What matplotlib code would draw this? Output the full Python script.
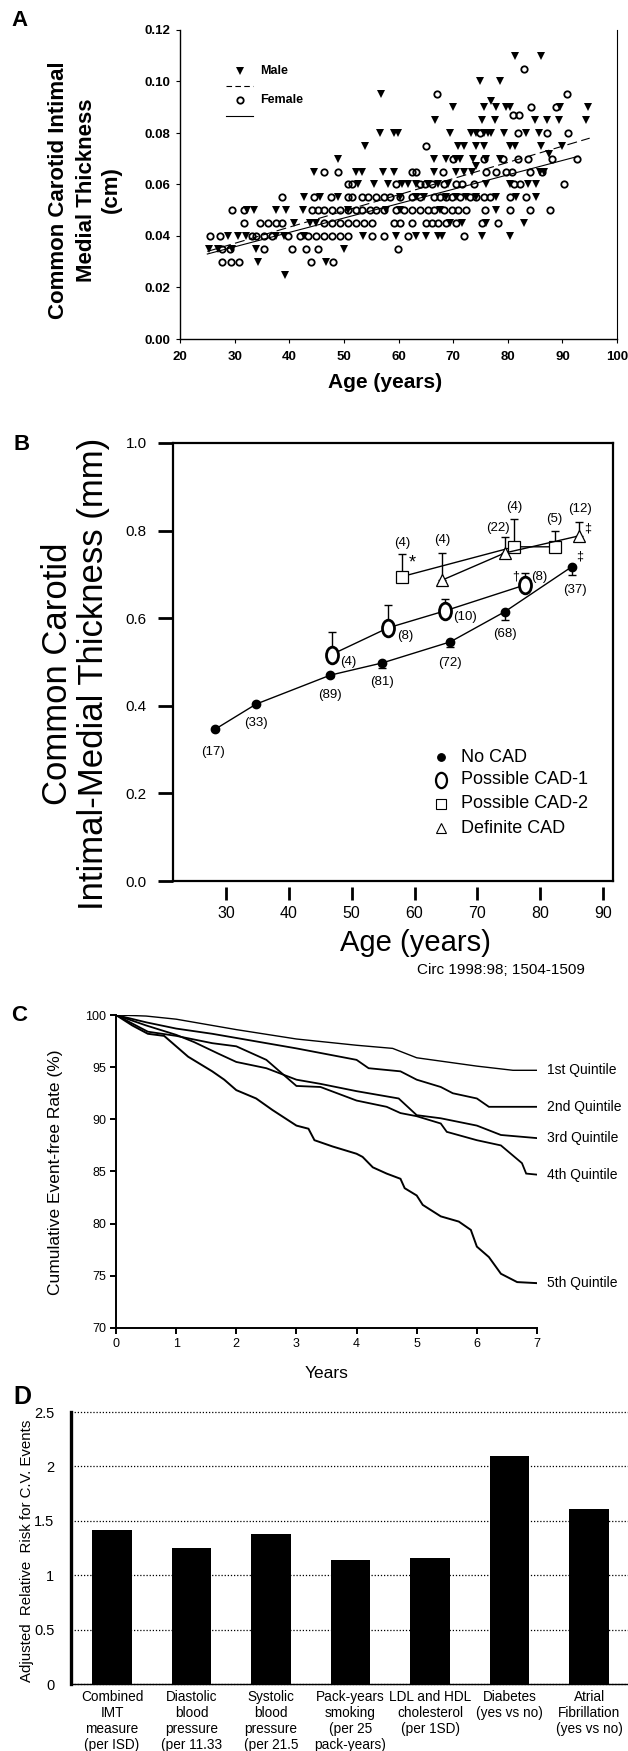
import numpy as np
import matplotlib
matplotlib.use('Agg')
import matplotlib.pyplot as plt
from matplotlib.path import Path
from matplotlib.transforms import Affine2D

plt.rcParams['font.family'] = ['Liberation Sans', 'DejaVu Sans']

W, H = 628, 1751

###   Panel A : IMT vs age scatter (cm)

male_rows = [
    (0.110, [81.3, 86.0]),
    (0.100, [74.9, 78.6]),
    (0.095, [56.8]),
    (0.0925, [77.0]),
    (0.090, [70.0, 75.6, 77.8, 79.7, 80.4, 89.5, 94.7]),
    (0.085, [66.6, 75.3, 77.6, 84.9, 87.2, 89.4, 94.3]),
    (0.080, [56.6, 59.2, 59.9, 69.4, 73.3, 74.2, 75.6, 76.3, 77.0, 79.3, 83.3, 85.7]),
    (0.075, [53.8, 70.9, 72.0, 74.2, 75.6, 80.4, 81.3, 86.0, 89.9]),
    (0.072, [87.5]),
    (0.070, [48.9, 66.5, 68.7, 70.5, 71.2, 73.6, 76.0, 78.6]),
    (0.067, [74.2]),
    (0.065, [44.6, 52.2, 53.3, 57.2, 59.2, 66.5, 70.5, 72.0, 73.4, 85.9, 86.6]),
    (0.060, [52.6, 55.5, 58.1, 60.6, 61.7, 63.2, 65.4, 67.2, 69.0, 76.0, 80.4, 83.7, 85.2]),
    (0.055, [42.7, 45.6, 48.9, 60.3, 63.2, 64.7, 68.7, 70.5, 72.3, 74.2, 77.8, 81.5, 85.2]),
    (0.050, [32.2, 33.5, 37.6, 39.4, 42.5, 50.7, 57.7, 60.3, 67.6, 77.8]),
    (0.045, [40.9, 43.8, 44.9, 69.4, 71.6, 76.0, 82.9]),
    (0.040, [28.8, 30.6, 32.1, 37.6, 39.0, 42.7, 53.5, 59.5, 63.2, 65.0, 67.2, 68.0, 75.3, 80.4]),
    (0.035, [25.3, 27.0, 29.5, 33.9, 50.0]),
    (0.030, [34.2, 46.7]),
    (0.025, [39.2]),
]

female_rows = [
    (0.105, [83.0]),
    (0.095, [67.0, 90.9]),
    (0.090, [84.2, 88.8]),
    (0.087, [81.0, 82.0]),
    (0.080, [74.9, 81.9, 87.2, 91.1]),
    (0.075, [65.0]),
    (0.070, [70.0, 75.6, 79.1, 81.9, 83.7, 88.1, 92.7]),
    (0.065, [46.4, 48.9, 62.5, 63.2, 68.2, 76.0, 77.8, 79.7, 80.8, 84.0, 86.2]),
    (0.060, [50.7, 51.5, 59.5, 63.9, 64.8, 66.1, 68.3, 70.5, 71.6, 73.8, 81.1, 82.2, 90.3]),
    (0.055, [38.7, 44.5, 47.7, 50.7, 51.5, 53.3, 54.4, 55.9, 57.3, 58.4, 60.3, 62.5, 63.9,
             66.5, 67.6, 68.7, 69.8, 71.2, 73.1, 74.2, 75.6, 76.7, 80.4, 83.3]),
    (0.050, [29.5, 31.7, 44.2, 45.3, 46.4, 47.8, 49.3, 50.7, 52.2, 53.3, 54.8, 55.9, 57.3,
             59.5, 61.0, 62.5, 63.9, 65.4, 66.5, 68.3, 69.8, 70.9, 72.3, 75.8, 80.4, 84.0, 87.7]),
    (0.045, [31.7, 34.6, 36.1, 37.6, 38.7, 46.4, 47.8, 49.3, 50.7, 52.2, 53.6, 55.1, 59.2,
             60.3, 62.5, 65.0, 66.1, 67.2, 68.7, 70.5, 75.3, 78.2]),
    (0.040, [25.5, 27.3, 33.2, 34.0, 35.4, 36.8, 39.8, 42.0, 43.4, 44.9, 46.4, 47.8, 49.3,
             50.7, 55.1, 57.3, 61.7, 72.0]),
    (0.035, [27.7, 29.2, 35.4, 40.5, 43.1, 45.3, 59.9]),
    (0.030, [27.7, 29.3, 30.8, 43.9, 48.0]),
]

male_fit_age = [25, 95]
male_fit_imt = [0.034, 0.078]
female_fit_age = [25, 93]
female_fit_imt = [0.033, 0.071]

###   Panel B : IMT by CAD group (mm)

nocad_age = [28.2, 34.8, 46.6, 54.9, 65.7, 74.4, 85.1]
nocad_imt = [0.346, 0.404, 0.470, 0.498, 0.546, 0.615, 0.718]
nocad_err = [0.0, 0.0, 0.005, 0.012, 0.012, 0.018, 0.020]
nocad_n = ['(17)', '(33)', '(89)', '(81)', '(72)', '(68)', '(37)']

cad1_age = [46.8, 55.8, 64.9, 77.6]
cad1_imt = [0.517, 0.578, 0.617, 0.676]
cad1_err = [0.052, 0.053, 0.026, 0.028]
cad1_n = ['(4)', '(8)', '(10)', '(8)']

cad2_age = [58.0, 75.9, 82.3]
cad2_imt = [0.695, 0.763, 0.763]
cad2_err = [0.051, 0.063, 0.036]
cad2_n = ['(4)', '(4)', '(5)']

defcad_age = [64.4, 74.4, 86.2]
defcad_imt = [0.687, 0.749, 0.788]
defcad_err = [0.062, 0.037, 0.031]
defcad_n = ['(4)', '(22)', '(12)']

###   Panel C : event-free survival by quintile

q_labels = ['1st Quintile', '2nd Quintile', '3rd Quintile', '4th Quintile', '5th Quintile']
q1_t = [0, 0.5, 1.0, 1.4, 2.0, 3.0, 4.0, 4.6, 5.0, 6.0, 6.6, 7.0]
q1_v = [100, 99.9, 99.6, 99.2, 98.6, 97.7, 97.1, 96.8, 95.9, 95.1, 94.7, 94.7]
q2_t = [0, 0.5, 1.0, 1.6, 2.0, 3.0, 4.0, 4.2, 4.73, 5.0, 5.4, 5.6, 6.0, 6.2, 7.0]
q2_v = [100, 99.3, 98.7, 98.2, 97.8, 96.8, 95.7, 94.9, 94.6, 93.8, 93.1, 92.5, 92.0, 91.2, 91.2]
q3_t = [0, 0.5, 1.0, 1.3, 1.7, 2.0, 2.5, 3.0, 3.4, 4.0, 4.7, 5.0, 5.4, 6.0, 6.4, 7.0]
q3_v = [100, 99.0, 98.1, 97.4, 96.3, 95.5, 94.9, 93.8, 93.4, 92.7, 92.0, 90.4, 90.1, 89.4, 88.5, 88.2]
q4_t = [0, 0.53, 1.0, 1.6, 2.0, 2.5, 3.0, 3.4, 4.0, 4.5, 4.73, 5.0, 5.4, 5.5, 6.0, 6.4, 6.75, 6.82, 7.0]
q4_v = [100, 98.4, 98.0, 97.3, 97.0, 95.7, 93.2, 93.1, 91.8, 91.2, 90.6, 90.3, 89.6, 88.8,
        88.0, 87.5, 85.8, 84.8, 84.7]
q5_t = [0, 0.27, 0.53, 0.8, 1.0, 1.2, 1.6, 1.8, 2.0, 2.33, 2.6, 3.0, 3.2, 3.3, 3.6, 4.0, 4.1,
        4.27, 4.5, 4.73, 4.8, 5.0, 5.1, 5.4, 5.7, 5.9, 6.0, 6.2, 6.4, 6.67, 7.0]
q5_v = [100, 99.0, 98.2, 98.0, 97.0, 96.0, 94.6, 93.8, 92.8, 92.0, 90.9, 89.4, 89.1, 88.0,
        87.4, 86.7, 86.4, 85.4, 84.8, 84.3, 83.4, 82.7, 81.8, 80.7, 80.2, 79.4, 77.8, 76.8,
        75.2, 74.4, 74.3]

###   Panel D : adjusted relative risk

risk_labels = ['Combined\nIMT\nmeasure\n(per ISD)',
               'Diastolic\nblood\npressure\n(per 11.33',
               'Systolic\nblood\npressure\n(per 21.5',
               'Pack-years\nsmoking\n(per 25\npack-years)',
               'LDL and HDL\ncholesterol\n(per 1SD)',
               'Diabetes\n(yes vs no)',
               'Atrial\nFibrillation\n(yes vs no)']
risk_values = [1.42, 1.25, 1.38, 1.14, 1.16, 2.10, 1.61]


def px_axes(fig, l, t, r, b):
    return fig.add_axes([l / W, 1 - b / H, (r - l) / W, (b - t) / H])


def fig_text(fig, x, y, s, **kw):
    fig.text(x / W, 1 - y / H, s, **kw)


def main():

    fig = plt.figure(figsize=(W / 100, H / 100), dpi=100)

    # { Panel A

    ax = px_axes(fig, 180, 30, 617, 339)
    for level, ages in male_rows:
        ax.plot(ages, [level] * len(ages), 'v', color='k', ms=5.2, mew=0, clip_on=False)
    for level, ages in female_rows:
        ax.plot(ages, [level] * len(ages), 'o', mfc='none', mec='k', ms=4.6, mew=1.3, clip_on=False)
    ax.plot(male_fit_age, male_fit_imt, color='k', lw=0.8, dashes=(9, 4))
    ax.plot(female_fit_age, female_fit_imt, color='k', lw=0.8)

    ax.set_xlim(20, 100)
    ax.set_ylim(0, 0.12)
    ax.set_xticks(np.arange(20, 101, 10))
    ax.set_yticks(np.arange(0, 0.121, 0.02))
    ax.set_yticklabels(['%.2f' % v for v in np.arange(0, 0.121, 0.02)], fontweight='bold')
    ax.set_xticklabels([str(v) for v in range(20, 101, 10)], fontweight='bold')
    ax.tick_params(labelsize=9.5, length=3, width=0.8, pad=4)
    ax.tick_params(axis='x', pad=6)
    ax.spines['top'].set_visible(False)
    ax.spines['right'].set_linewidth(0.8)
    ax.spines['left'].set_linewidth(1.0)
    ax.spines['bottom'].set_linewidth(1.0)

    # legend
    ax.plot([0.137], [0.867], 'v', color='k', ms=5.2, mew=0, transform=ax.transAxes)
    ax.text(0.183, 0.867, 'Male', transform=ax.transAxes, fontsize=9, fontweight='bold', va='center')
    ax.plot([0.105, 0.167], [0.819, 0.819], color='k', lw=0.8, dashes=(5, 3), transform=ax.transAxes)
    ax.plot([0.137], [0.773], 'o', mfc='none', mec='k', ms=4.6, mew=1.3, transform=ax.transAxes)
    ax.text(0.183, 0.773, 'Female', transform=ax.transAxes, fontsize=9, fontweight='bold', va='center')
    ax.plot([0.105, 0.167], [0.722, 0.722], color='k', lw=0.8, transform=ax.transAxes)

    fig_text(fig, 385, 382, 'Age (years)', fontsize=15, fontweight='bold', ha='center', va='center')
    for xx, s in zip([59, 87, 111], ['Common Carotid Intimal', 'Medial Thickness', '(cm)']):
        fig_text(fig, xx, 190, s, fontsize=16, fontweight='bold', rotation=90, ha='center', va='center')
    fig_text(fig, 20, 21, 'A', fontsize=16, fontweight='bold', ha='center', va='center')

    # }

    # { Panel B

    ax = px_axes(fig, 173, 443, 613, 881)
    ellipse = Path.unit_circle().transformed(Affine2D().scale(0.72, 1.0))

    ax.errorbar(nocad_age, nocad_imt, yerr=[nocad_err, [0] * len(nocad_err)], fmt='none',
                ecolor='k', elinewidth=1, capsize=3)
    ax.plot(nocad_age, nocad_imt, '-o', color='k', lw=1, ms=6, zorder=3)

    ax.errorbar(cad1_age, cad1_imt, yerr=[[0] * len(cad1_err), cad1_err], fmt='none',
                ecolor='k', elinewidth=1, capsize=3)
    ax.plot(cad1_age, cad1_imt, '-', color='k', lw=1, zorder=2)
    ax.plot(cad1_age, cad1_imt, ls='none', marker=ellipse, mfc='white', mec='k', ms=12, mew=2, zorder=3)

    ax.errorbar(cad2_age, cad2_imt, yerr=[[0] * len(cad2_err), cad2_err], fmt='none',
                ecolor='k', elinewidth=1, capsize=3)
    ax.plot(cad2_age, cad2_imt, '-s', color='k', mfc='white', lw=1, ms=8, mew=0.9, zorder=3)

    ax.errorbar(defcad_age, defcad_imt, yerr=[[0] * len(defcad_err), defcad_err], fmt='none',
                ecolor='k', elinewidth=1, capsize=3)
    ax.plot(defcad_age, defcad_imt, '-^', color='k', mfc='white', lw=1, ms=9, mew=0.9, zorder=3)

    nocad_off = [(-1, -16), (0, -13.5), (0, -14), (0, -14), (0, -15), (0, -16), (2, -17)]
    cad1_off = [(12, -5.5), (12.5, -6), (14, -4.5), (10, 6)]
    cad2_off = [(0, 24), (0, 29), (0, 20)]
    defcad_off = [(0, 29), (-5, 18), (1, 19)]
    for xs, ys, ns, offs in [(nocad_age, nocad_imt, nocad_n, nocad_off),
                             (cad1_age, cad1_imt, cad1_n, cad1_off),
                             (cad2_age, cad2_imt, cad2_n, cad2_off),
                             (defcad_age, defcad_imt, defcad_n, defcad_off)]:
        for x, y, n, o in zip(xs, ys, ns, offs):
            ax.annotate(n, (x, y), xytext=o, textcoords='offset points', fontsize=9.5,
                        ha='center', va='center')
    ax.annotate('*', (cad2_age[0], cad2_imt[0]), xytext=(7.5, 10), textcoords='offset points',
                fontsize=13, ha='center', va='center')
    ax.annotate('\u2020', (cad1_age[-1], cad1_imt[-1]), xytext=(-7, 6), textcoords='offset points',
                fontsize=9, ha='center', va='center')
    ax.annotate('\u2021', (nocad_age[-1], nocad_imt[-1]), xytext=(5.5, 7), textcoords='offset points',
                fontsize=9, ha='center', va='center')
    ax.annotate('\u2021', (defcad_age[-1], defcad_imt[-1]), xytext=(6.5, 5), textcoords='offset points',
                fontsize=9, ha='center', va='center')

    # legend
    leg = [('No CAD', dict(marker='o', mfc='k', mec='k', ms=5.5, mew=0.8)),
           ('Possible CAD-1', dict(marker=ellipse, mfc='white', mec='k', ms=11, mew=1.6)),
           ('Possible CAD-2', dict(marker='s', mfc='white', mec='k', ms=6.5, mew=0.8)),
           ('Definite CAD', dict(marker='^', mfc='white', mec='k', ms=7, mew=0.8))]
    for (lab, st), yy in zip(leg, [0.283, 0.231, 0.176, 0.121]):
        ax.plot([0.609], [yy], ls='none', transform=ax.transAxes, **st)
        ax.text(0.655, yy, lab, transform=ax.transAxes, fontsize=13, va='center')

    ax.set_xlim(21.55, 91.6)
    ax.set_ylim(0, 1.0)
    ax.set_xticks(np.arange(30, 91, 10))
    ax.set_yticks(np.arange(0, 1.01, 0.2))
    ax.set_yticklabels(['%.1f' % v for v in np.arange(0, 1.01, 0.2)])
    for s in ax.spines.values():
        s.set_linewidth(1.6)
    ax.spines['bottom'].set_position(('outward', 4))
    ax.spines['bottom'].set_visible(False)
    ax.axhline(0, color='k', lw=1.6, clip_on=False)
    ax.tick_params(axis='x', length=9, width=2, labelsize=11.5, pad=5)
    ax.tick_params(axis='y', length=11, width=2, labelsize=11, pad=8)

    fig_text(fig, 415, 943, 'Age (years)', fontsize=21, ha='center', va='center')
    fig_text(fig, 585, 970, 'Circ 1998:98; 1504-1509', fontsize=11, ha='right', va='center')
    fig_text(fig, 58, 674, 'Common Carotid', fontsize=25, rotation=90, ha='center', va='center')
    fig_text(fig, 94, 674, 'Intimal-Medial Thickness (mm)', fontsize=25, rotation=90,
             ha='center', va='center')
    fig_text(fig, 22, 445, 'B', fontsize=16, fontweight='bold', ha='center', va='center')

    # }

    # { Panel C

    ax = px_axes(fig, 116, 1015, 537, 1328)
    curves = [(q1_t, q1_v, 1.0), (q2_t, q2_v, 1.3), (q3_t, q3_v, 1.3), (q4_t, q4_v, 1.3),
              (q5_t, q5_v, 1.4)]
    for (t, v, lw), lab in zip(curves, q_labels):
        ax.plot(t, v, color='k', lw=lw, solid_joinstyle='miter')
        ax.annotate(lab, (t[-1], v[-1]), xytext=(7.5, 0), textcoords='offset points',
                    fontsize=10, ha='left', va='center')
    ax.set_xlim(0, 7)
    ax.set_ylim(70, 100)
    ax.set_xticks(range(8))
    ax.set_yticks(range(70, 101, 5))
    ax.spines['top'].set_visible(False)
    ax.spines['right'].set_visible(False)
    ax.spines['left'].set_linewidth(1.4)
    ax.spines['bottom'].set_linewidth(1.4)
    ax.tick_params(length=4, width=1.4, labelsize=9, pad=3)
    ax.set_xlabel('Years', fontsize=12.5, labelpad=12)
    fig_text(fig, 56, 1172, 'Cumulative Event-free Rate (%)', fontsize=12.5, rotation=90,
             ha='center', va='center')
    fig_text(fig, 19, 1015, 'C', fontsize=16, fontweight='bold', ha='center', va='center')

    # }

    # { Panel D

    ax = px_axes(fig, 71, 1412, 628, 1684)
    xpos = np.arange(len(risk_values))
    ax.bar(xpos, risk_values, width=0.5, color='k', zorder=3)
    ax.set_xlim(-0.516, 6.49)
    ax.set_ylim(0, 2.5)
    ax.set_yticks([0, 0.5, 1, 1.5, 2, 2.5])
    ax.set_yticklabels(['0', '0.5', '1', '1.5', '2', '2.5'])
    ax.set_xticks(xpos)
    ax.set_xticklabels(risk_labels, fontsize=9.8, va='top', linespacing=1.2)
    ax.yaxis.grid(True, color='k', ls=(0, (1, 1.5)), lw=0.9)
    for gl in ax.get_ygridlines():
        gl.set_clip_on(False)
    ax.set_axisbelow(True)
    ax.spines['top'].set_visible(False)
    ax.spines['right'].set_visible(False)
    ax.spines['left'].set_linewidth(2.4)
    ax.spines['bottom'].set_linewidth(1.0)
    ax.tick_params(axis='y', length=0, labelsize=10.5, pad=12)
    ax.tick_params(axis='x', length=0, pad=4)
    fig_text(fig, 27, 1551, 'Adjusted  Relative  Risk for C.V. Events', fontsize=10.8,
             rotation=90, ha='center', va='center')
    fig_text(fig, 22, 1397, 'D', fontsize=18, fontweight='bold', ha='center', va='center')

    # }

    fig.savefig('out.png', dpi=100)


if __name__ == '__main__':
    main()
